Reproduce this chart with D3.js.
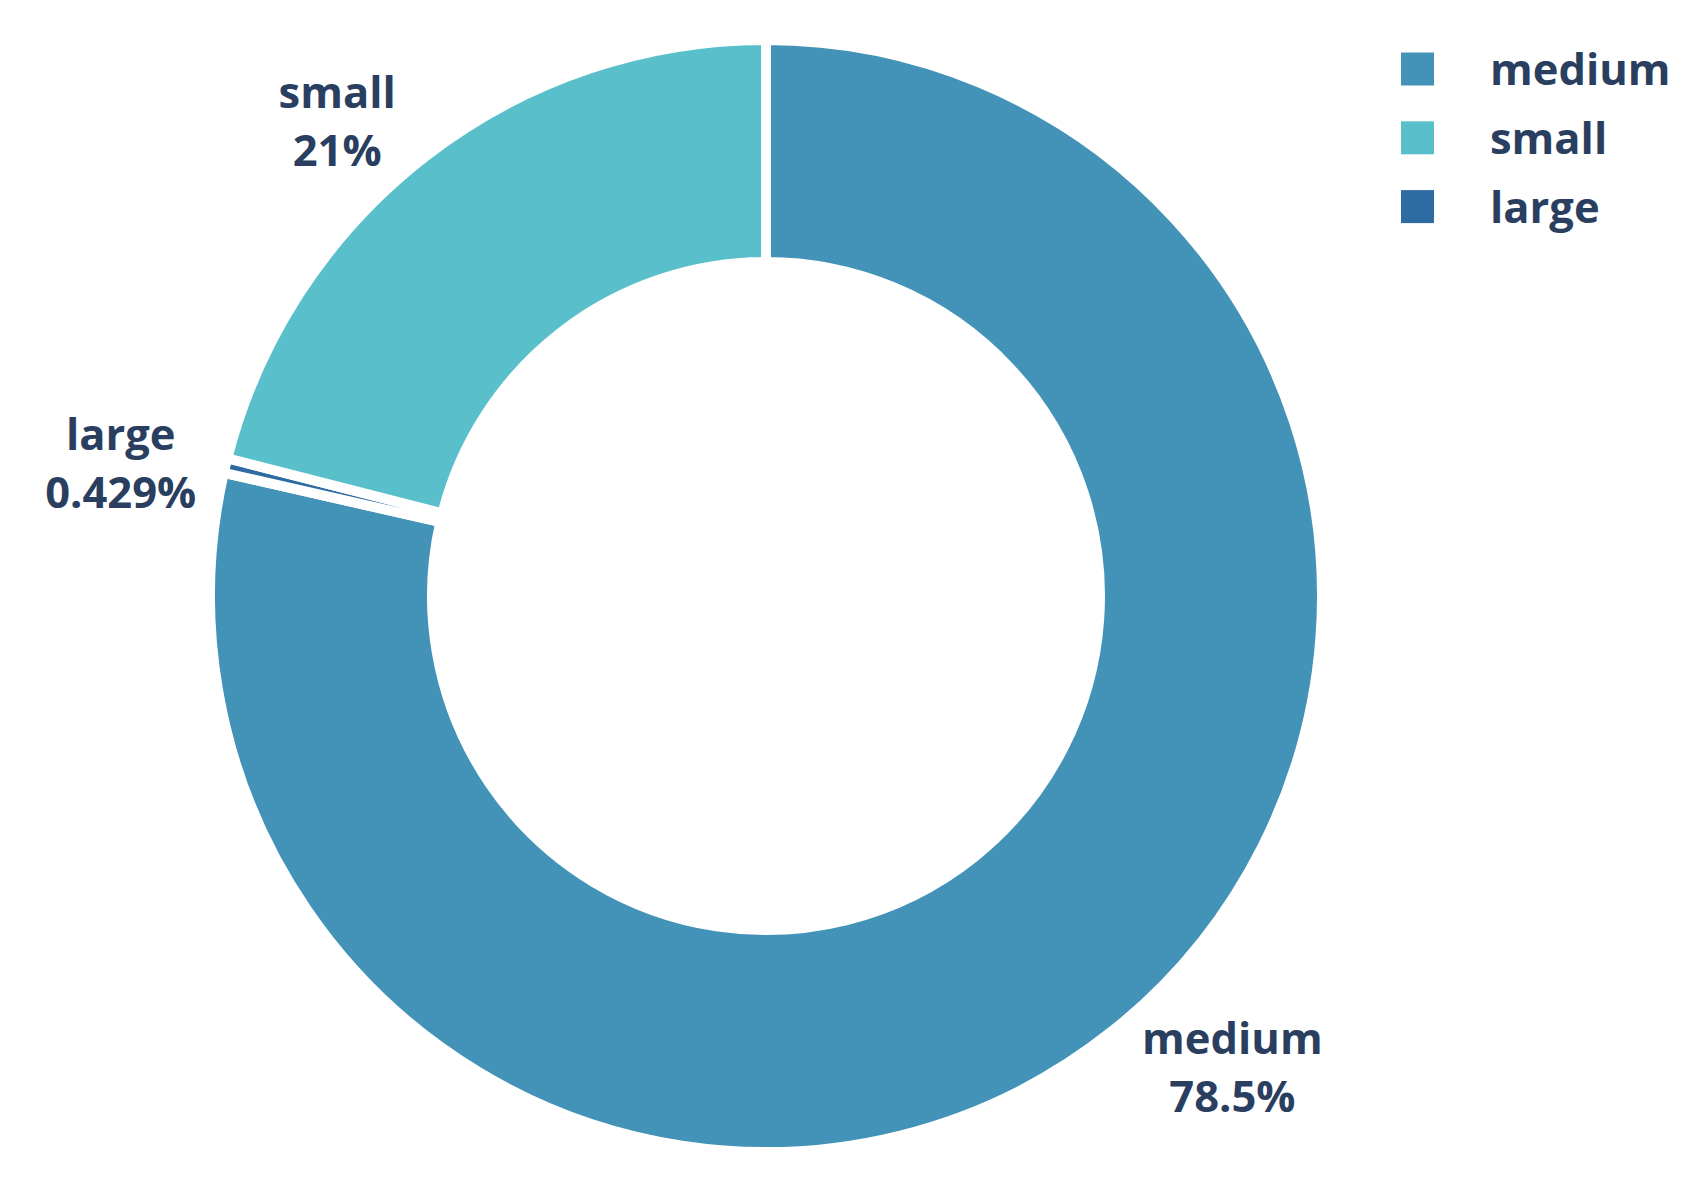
<!DOCTYPE html>
<html>
<head>
<meta charset="utf-8">
<script src="https://cdn.jsdelivr.net/npm/d3@7"></script>
<style>
  html, body { margin: 0; padding: 0; background: #fff; }
</style>
</head>
<body>
<div id="chart"></div>
<script>
// Donut of size shares, drawn clockwise from 12 o'clock like the plotly original.
const categories = ["medium", "large", "small"];
const shares     = [78.5, 0.429, 21];
const shareText  = ["78.5%", "0.429%", "21%"];
const legendOrder = ["medium", "small", "large"];

const W = 1708, H = 1196;
const CX = 766, CY = 596;
const R_OUT = 556, R_IN = 334;
const GAP = 10;
const FONT = "'Open Sans', 'Noto Sans', sans-serif";
const FONT_SIZE = 43.5;
const LINE_H = 58;
const TEXT_COLOR = "#2a3f5f";

const color = d3.scaleOrdinal()
  .domain(["medium", "small", "large"])
  .range(["#4293b7", "#59bfca", "#2e6ba2"]);

const svg = d3.select("#chart").append("svg")
  .attr("width", W)
  .attr("height", H)
  .attr("viewBox", `0 0 ${W} ${H}`)
  .attr("font-family", FONT);

svg.append("rect").attr("width", W).attr("height", H).attr("fill", "#fff");

const pie = d3.pie().sort(null).value((d) => d.value);
const arcs = pie(categories.map((c, i) => ({ name: c, value: shares[i], text: shareText[i] })));
const arc = d3.arc().innerRadius(R_IN).outerRadius(R_OUT);

const g = svg.append("g").attr("transform", `translate(${CX},${CY})`);

g.selectAll("path.slice")
  .data(arcs)
  .join("path")
    .attr("class", "slice")
    .attr("d", arc)
    .attr("fill", (d) => color(d.data.name))
    .attr("stroke", "#fff")
    .attr("stroke-width", GAP)
    .attr("stroke-linejoin", "miter");

// Outside labels, placed the way plotly's transformOutsideText does it.
const labels = g.selectAll("g.label")
  .data(arcs)
  .join("g")
    .attr("class", "label");

labels.append("text")
  .attr("text-anchor", "middle")
  .attr("font-size", FONT_SIZE)
  .attr("font-weight", 700)
  .attr("fill", TEXT_COLOR)
  .selectAll("tspan")
  .data((d) => [d.data.name, d.data.text])
  .join("tspan")
    .attr("x", 0)
    .attr("y", (_, i) => i * LINE_H)
    .text((d) => d);

labels.each(function (d) {
  const node = d3.select(this);
  const bb = node.select("text").node().getBBox();
  const mid = (d.startAngle + d.endAngle) / 2;
  const px = R_OUT * Math.sin(mid);
  const py = -R_OUT * Math.cos(mid);
  let dx = bb.width / 2, dy = bb.height / 2;
  if (px < 0) dx *= -1;
  if (py < 0) dy *= -1;
  const tx = dx + Math.abs(dy) * (dx > 0 ? 1 : -1) / 2;
  const ty = dy / (1 + (px * px) / (py * py));
  const bcx = bb.x + bb.width / 2, bcy = bb.y + bb.height / 2;
  node.attr("transform", `translate(${px + tx - bcx},${py + ty - bcy})`);
});

// Legend
const LEG_X = 1401, LEG_Y = 69, LEG_STEP = 68.8, SW = 33;
const legend = svg.append("g").attr("class", "legend");
const rows = legend.selectAll("g")
  .data(legendOrder)
  .join("g")
    .attr("transform", (_, i) => `translate(${LEG_X},${LEG_Y + i * LEG_STEP})`);
rows.append("rect")
  .attr("x", 0)
  .attr("y", -SW / 2)
  .attr("width", SW)
  .attr("height", SW)
  .attr("fill", (d) => color(d));
rows.append("text")
  .attr("x", 89)
  .attr("y", 16)
  .attr("font-size", FONT_SIZE)
  .attr("font-weight", 700)
  .attr("fill", TEXT_COLOR)
  .text((d) => d);
</script>
</body>
</html>
